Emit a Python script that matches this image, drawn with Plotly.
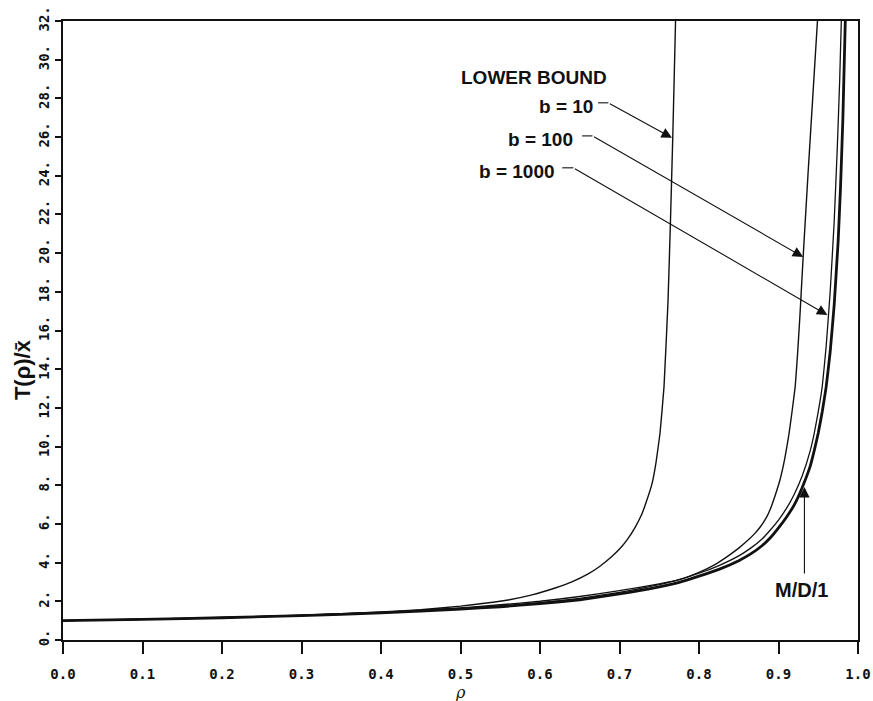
import plotly.graph_objects as go

# ---- data ----
rho_md1 = [0.0, 0.1, 0.2, 0.3, 0.4, 0.5, 0.55, 0.6, 0.65, 0.7, 0.725, 0.75, 0.775, 0.8, 0.825, 0.85, 0.865, 0.88,
           0.89, 0.9, 0.91, 0.92, 0.93, 0.94, 0.945, 0.95, 0.955, 0.96, 0.965, 0.97, 0.975, 0.978, 0.981, 0.984]
t_md1 = [1.0, 1.07, 1.15, 1.26, 1.4, 1.6, 1.72, 1.88, 2.08, 2.38, 2.55, 2.75, 2.98, 3.3, 3.65, 4.1, 4.45, 4.9,
         5.3, 5.8, 6.35, 7.0, 7.9, 9.0, 9.8, 10.7, 11.8, 13.1, 14.9, 17.3, 20.6, 23.4, 27.0, 32.0]

rho_b1000 = [0.0, 0.1, 0.2, 0.3, 0.4, 0.5, 0.55, 0.6, 0.65, 0.7, 0.725, 0.75, 0.775, 0.8, 0.825, 0.85, 0.865, 0.88,
             0.89, 0.9, 0.91, 0.92, 0.93, 0.94, 0.945, 0.95, 0.955, 0.96, 0.965, 0.97, 0.974, 0.977, 0.979]
t_b1000 = [1.0, 1.07, 1.15, 1.27, 1.42, 1.63, 1.76, 1.93, 2.15, 2.46, 2.65, 2.86, 3.12, 3.45, 3.85, 4.35, 4.75, 5.25,
           5.7, 6.2, 6.8, 7.55, 8.5, 9.8, 10.7, 11.8, 13.1, 15.2, 18.0, 21.6, 25.5, 29.0, 32.0]

rho_b100 = [0.0, 0.1, 0.2, 0.3, 0.4, 0.5, 0.55, 0.6, 0.65, 0.7, 0.75, 0.775, 0.8, 0.82, 0.835, 0.85, 0.86, 0.87,
            0.877, 0.885, 0.89, 0.896, 0.902, 0.908, 0.913, 0.917, 0.921, 0.924, 0.927, 0.931, 0.937, 0.943, 0.949]
t_b100 = [1.0, 1.07, 1.15, 1.27, 1.43, 1.66, 1.82, 2.0, 2.25, 2.55, 2.9, 3.12, 3.5, 3.9, 4.3, 4.75, 5.1, 5.5,
          5.84, 6.35, 6.8, 7.5, 8.3, 9.4, 10.6, 11.8, 13.1, 14.8, 16.8, 19.8, 24.0, 28.0, 32.0]

rho_b10 = [0.0, 0.1, 0.2, 0.3, 0.4, 0.45, 0.5, 0.53, 0.56, 0.59, 0.62, 0.64, 0.66, 0.675, 0.69, 0.7, 0.71, 0.72,
           0.728, 0.735, 0.741, 0.746, 0.751, 0.756, 0.761, 0.764, 0.767, 0.7705]
t_b10 = [1.0, 1.07, 1.16, 1.28, 1.45, 1.56, 1.75, 1.9, 2.07, 2.33, 2.7, 3.0, 3.4, 3.8, 4.3, 4.7, 5.2, 5.85,
         6.5, 7.3, 8.1, 9.2, 10.7, 13.1, 17.5, 21.5, 26.0, 32.0]

x_tickvals = [0.0, 0.1, 0.2, 0.3, 0.4, 0.5, 0.6, 0.7, 0.8, 0.9, 1.0]
x_ticktext = ["0.0", "0.1", "0.2", "0.3", "0.4", "0.5", "0.6", "0.7", "0.8", "0.9", "1.0"]
y_tickvals = list(range(0, 33, 2))
y_ticktext = [f"{v}." for v in y_tickvals]

# label / arrow anchor points (data coords)
labels = [
    # text, x_right, y, stub_x0, stub_x1, stub_y, tip_x, tip_y
    ("b = 10", 0.669, 27.6, 0.673, 0.686, 27.77, 0.766, 25.96),
    ("b = 100", 0.644, 25.85, 0.653, 0.666, 26.06, 0.931, 19.80),
    ("b = 1000", 0.6215, 24.2, 0.628, 0.642, 24.41, 0.9615, 16.80),
]

fig = go.Figure()
line_col = "#111111"
for xs, ys, w in [(rho_b10, t_b10, 1.4), (rho_b100, t_b100, 1.4), (rho_b1000, t_b1000, 1.3), (rho_md1, t_md1, 2.8)]:
    fig.add_trace(go.Scatter(x=xs, y=ys, mode="lines", line=dict(color=line_col, width=w, shape="spline", smoothing=0.3),
                             showlegend=False, hoverinfo="skip"))

lab_font = dict(family="Liberation Sans, Arial, sans-serif", size=19, color="#111111", weight="bold")

fig.add_annotation(x=0.593, y=29.06, xref="x", yref="y", text="LOWER BOUND", showarrow=False,
                   font=lab_font, xanchor="center", yanchor="middle")
for text, xr, ly, sx0, sx1, sy, tx, ty in labels:
    fig.add_annotation(x=xr, y=ly, xref="x", yref="y", text=text, showarrow=False,
                       font=lab_font, xanchor="right", yanchor="middle")
    fig.add_shape(type="line", x0=sx0, x1=sx1, y0=sy, y1=sy, xref="x", yref="y",
                  line=dict(color=line_col, width=1.1))
    fig.add_annotation(x=tx, y=ty, ax=sx1, ay=sy, xref="x", yref="y", axref="x", ayref="y",
                       text="", showarrow=True, arrowhead=2, arrowsize=1.9, arrowwidth=1.1,
                       arrowcolor=line_col)

# M/D/1 arrow
fig.add_annotation(x=0.9326, y=7.91, ax=0.9326, ay=3.36, xref="x", yref="y", axref="x", ayref="y",
                   text="", showarrow=True, arrowhead=2, arrowsize=1.9, arrowwidth=1.1, arrowcolor=line_col)
fig.add_annotation(x=0.9287, y=2.59, xref="x", yref="y", text="M/D/1", showarrow=False,
                   font=dict(family="Liberation Sans, Arial, sans-serif", size=20, color="#111111", weight="bold"))

# axis titles
fig.add_annotation(x=0, y=0.436, xref="paper", yref="paper", xshift=-41, text="T(ρ)/x̄",
                   showarrow=False, textangle=-90, xanchor="center", yanchor="middle",
                   font=dict(family="Liberation Sans, Arial, sans-serif", size=22, color="#111111", weight="bold"))
fig.add_annotation(x=0.5, y=0, xref="paper", yref="paper", yshift=-52, text="ρ",
                   showarrow=False, xanchor="center", yanchor="middle",
                   font=dict(family="DejaVu Serif, serif", size=16, color="#111111", style="italic"))

tick_font = dict(family="DejaVu Sans Mono, monospace", size=14, color="#111111", weight="bold")
fig.update_xaxes(range=[0, 1.0], tickvals=x_tickvals, ticktext=x_ticktext, ticks="outside", ticklen=12,
                 tickwidth=1.5, tickcolor=line_col, showline=True, linecolor=line_col, linewidth=2,
                 mirror=True, showgrid=False, zeroline=False, tickfont=tick_font, ticklabelstandoff=8,
                 automargin=False)
fig.update_yaxes(range=[0, 32], tickvals=y_tickvals, ticktext=y_ticktext, ticks="outside", ticklen=6,
                 tickwidth=1.5, tickcolor=line_col, showline=True, linecolor=line_col, linewidth=2,
                 mirror=True, showgrid=False, zeroline=False, tickfont=tick_font, tickangle=-90,
                 automargin=False)
fig.update_layout(width=873, height=701, margin=dict(l=63, r=15, t=21, b=61),
                  plot_bgcolor="white", paper_bgcolor="white")
fig.write_html("out.html", post_script="document.body.style.margin='0';",
               config={"displayModeBar": False})
